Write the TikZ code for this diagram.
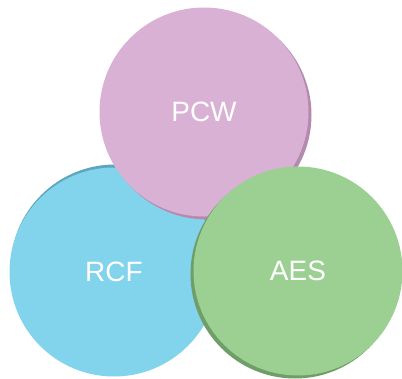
\documentclass[tikz,border=0pt]{standalone}
\usepackage{fontspec}
\newfontfamily\labelfont{Liberation Sans}
\usepackage{tikz}
\usetikzlibrary{shadows}

\definecolor{pcwfill}{HTML}{D9B1D4}
\definecolor{pcwrim}{HTML}{B48BAF}
\definecolor{rcffill}{HTML}{82D3EC}
\definecolor{rcfrim}{HTML}{5EA6BD}
\definecolor{aesfill}{HTML}{9CD093}
\definecolor{aesrim}{HTML}{6F9E68}

\tikzset{
  venn/.style={circle, minimum size=209pt, inner sep=0pt, text=white,
    font=\labelfont\fontsize{28}{28}\selectfont}
}

\begin{document}
\begin{tikzpicture}[x=1pt, y=1pt]
\useasboundingbox (0,0) rectangle (402,-378);
% Circles, back to front
\node[venn, fill=rcffill, drop shadow={shadow xshift=1pt, shadow yshift=3pt, fill=rcfrim, opacity=1}] (rcf) at (114,-272) {RCF};
\node[venn, fill=pcwfill, drop shadow={shadow xshift=3pt, shadow yshift=-3pt, fill=pcwrim, opacity=1}] (pcw) at (204,-112) {PCW};
\node[venn, fill=aesfill, drop shadow={shadow xshift=-3pt, shadow yshift=-3pt, fill=aesrim, opacity=1}] (aes) at (298,-271) {AES};
\end{tikzpicture}
\end{document}
